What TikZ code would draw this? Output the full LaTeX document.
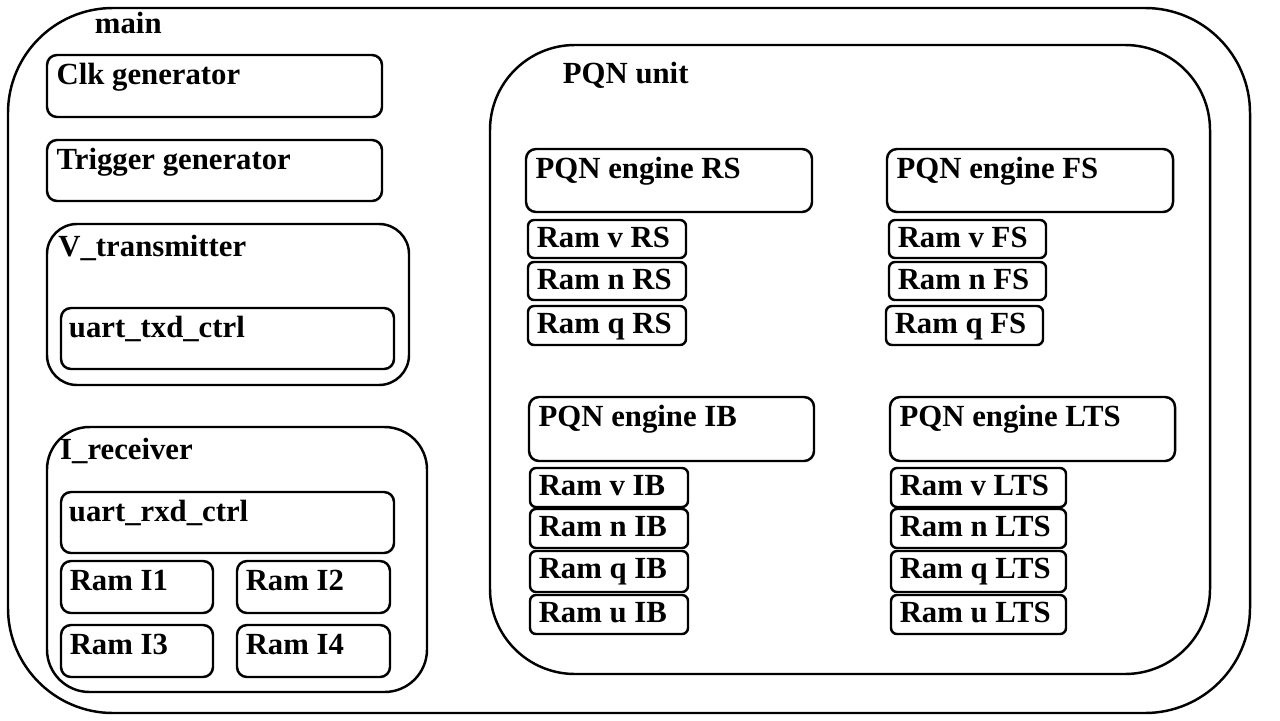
\documentclass[tikz,border=0pt]{standalone}
\usepackage{fontspec}
\setmainfont{Liberation Serif}
\usetikzlibrary{fit}

\tikzset{
  blk/.style={draw, line width=1.4pt, rounded corners=0.2cm, inner sep=0pt},
  ram/.style={blk, rounded corners=0.12cm},
  title/.style={anchor=north west, inner sep=0pt, xshift=5pt, yshift=-5pt,
    font=\bfseries\fontsize{17.5}{20}\selectfont}
}

\begin{document}
\begin{tikzpicture}[x=0.02cm, y=-0.02cm]

      \useasboundingbox (0,0) rectangle (1280,720);

      % outer blocks
      \node[blk, rounded corners=2.1cm, fit={(8,8) (1250,713)},
        label={[title, xshift=45pt, yshift=2pt]north west:main}] (main) {};
      \node[blk, rounded corners=1.7cm, fit={(490,45) (1210,674)},
        label={[title, xshift=37pt, yshift=-5pt]north west:PQN unit}] (pqn) {};

      % left column
      \node[blk, fit={(47,55) (382,117)},
        label={[title, xshift=1pt]north west:Clk generator}] (clk) {};
      \node[blk, fit={(47,140) (382,201)},
        label={[title, xshift=1pt]north west:Trigger generator}] (trig) {};

      \node[blk, rounded corners=0.6cm, fit={(47,224) (409,385)},
        label={[title, xshift=2pt, yshift=-2pt]north west:V\_transmitter}] (vtx) {};
      \node[blk, fit={(61,308) (394,369)},
        label={[title]north west:uart\_txd\_ctrl}] (txd) {};

      \node[blk, rounded corners=0.85cm, fit={(47,427) (427,692)},
        label={[title, xshift=3pt, yshift=-2pt]north west:I\_receiver}] (irx) {};
      \node[blk, fit={(61,492) (394,553)},
        label={[title]north west:uart\_rxd\_ctrl}] (rxd) {};

      \begin{scope}[every node/.style={blk}]
        \node[fit={(61,561) (213,613)}, label={[title]north west:Ram I1}] (ri1) {};
        \node[fit={(237,561) (390,613)}, label={[title]north west:Ram I2}] (ri2) {};
        \node[fit={(61,625) (213,677)}, label={[title]north west:Ram I3}] (ri3) {};
        \node[fit={(237,625) (390,677)}, label={[title]north west:Ram I4}] (ri4) {};
      \end{scope}

      % engines
      \node[blk, fit={(526,149) (812,212)},
        label={[title, xshift=1pt]north west:PQN engine RS}] (engrs) {};
      \node[blk, fit={(887,149) (1173,212)},
        label={[title, xshift=1pt]north west:PQN engine FS}] (engfs) {};
      \node[blk, fit={(529,397) (814,461)},
        label={[title, xshift=1pt]north west:PQN engine IB}] (engib) {};
      \node[blk, fit={(890,397) (1175,461)},
        label={[title, xshift=1pt]north west:PQN engine LTS}] (englts) {};

      % rams of the engines
      \begin{scope}[every node/.style={ram}]
        \node[fit={(528,220) (686,258)}, label={[title, yshift=1pt]north west:Ram v RS}] (rvrs) {};
        \node[fit={(528,262) (686,300)}, label={[title, yshift=1pt]north west:Ram n RS}] (rnrs) {};
        \node[fit={(528,306) (686,345)}, label={[title, yshift=1pt]north west:Ram q RS}] (rqrs) {};

        \node[fit={(889,220) (1046,258)}, label={[title, yshift=1pt]north west:Ram v FS}] (rvfs) {};
        \node[fit={(889,262) (1046,300)}, label={[title, yshift=1pt]north west:Ram n FS}] (rnfs) {};
        \node[fit={(886,306) (1043,345)}, label={[title, yshift=1pt]north west:Ram q FS}] (rqfs) {};

        \node[fit={(530,468) (688,507)}, label={[title, yshift=1pt]north west:Ram v IB}] (rvib) {};
        \node[fit={(530,509) (688,548)}, label={[title, yshift=1pt]north west:Ram n IB}] (rnib) {};
        \node[fit={(530,551) (688,592)}, label={[title, yshift=1pt]north west:Ram q IB}] (rqib) {};
        \node[fit={(530,595) (688,634)}, label={[title, yshift=1pt]north west:Ram u IB}] (ruib) {};

        \node[fit={(891,468) (1066,507)}, label={[title, yshift=1pt]north west:Ram v LTS}] (rvlts) {};
        \node[fit={(891,509) (1066,548)}, label={[title, yshift=1pt]north west:Ram n LTS}] (rnlts) {};
        \node[fit={(891,551) (1066,592)}, label={[title, yshift=1pt]north west:Ram q LTS}] (rqlts) {};
        \node[fit={(891,595) (1066,634)}, label={[title, yshift=1pt]north west:Ram u LTS}] (rults) {};
      \end{scope}

    \end{tikzpicture}
\end{document}
